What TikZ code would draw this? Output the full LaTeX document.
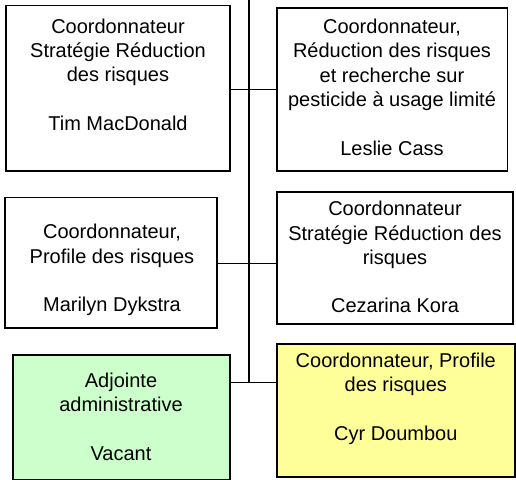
\documentclass[tikz,border=0pt]{standalone}
\usepackage{fontspec}
\setmainfont{Liberation Sans}
\definecolor{boxgreen}{HTML}{CCFFCC}
\definecolor{boxyellow}{HTML}{FFFF99}
\tikzset{
  box/.style={draw=black, line width=1.6pt, rectangle, inner sep=0pt, outer sep=0pt, fill=white},
  lbl/.style={font=\fontsize{20}{24.3}\selectfont, align=center, inner sep=0pt, anchor=north, text=black},
  link/.style={draw=black, line width=1.2pt}
}
\newcommand{\fl}{\rule{0pt}{15pt}}
\begin{document}
\begin{tikzpicture}[x=1pt,y=-1pt]
\useasboundingbox[fill=white] (0,0) rectangle (516,479);
\coordinate (spinetop) at (249,-5);
\coordinate (j1) at (249,89.3);
\coordinate (j2) at (249,263.3);
\coordinate (j3) at (249,382.3);
% boxes
\node[box, minimum width=224pt, minimum height=165.4pt] (b1) at (118,88) {};
\node[box, minimum width=230.6pt, minimum height=162.7pt] (b2) at (392,89.35) {};
\node[box, minimum width=212.3pt, minimum height=130.7pt] (b3) at (110.85,262.65) {};
\node[box, minimum width=236pt, minimum height=132pt] (b4) at (395,258) {};
\node[box, fill=boxgreen, minimum width=217.3pt, minimum height=124.5pt] (b5) at (121.35,417.25) {};
\node[box, fill=boxyellow, minimum width=238.3pt, minimum height=132.7pt] (b6) at (395.85,410.35) {};
% spine and connectors
\draw[link] (spinetop) -- (j3);
\draw[link] (j1 -| b1.east) -- (j1 -| b2.west);
\draw[link] (j2 -| b3.east) -- (j2 -| b4.west);
\draw[link] (j3 -| b5.east) -- (j3 -| b6.west);
% labels
\node[lbl] (t1) at (118,18) {\fl Coordonnateur\\Stratégie Réduction\\des risques\\ \\Tim MacDonald};
\node[lbl] (t2) at (392,18.3) {\fl Coordonnateur,\\Réduction des risques\\et recherche sur\\pesticide à usage limité\\ \\Leslie Cass};
\node[lbl] (t3) at (112,223.5) {\fl Coordonnateur,\\Profile des risques\\ \\Marilyn Dykstra};
\node[lbl] (t4) at (395,200.5) {\fl Coordonnateur\\Stratégie Réduction des\\risques\\ \\Cezarina Kora};
\node[lbl] (t5) at (121,372.3) {\fl Adjointe\\administrative\\ \\Vacant};
\node[lbl] (t6) at (395.8,352.3) {\fl Coordonnateur, Profile\\des risques\\ \\Cyr Doumbou};
\end{tikzpicture}
\end{document}
